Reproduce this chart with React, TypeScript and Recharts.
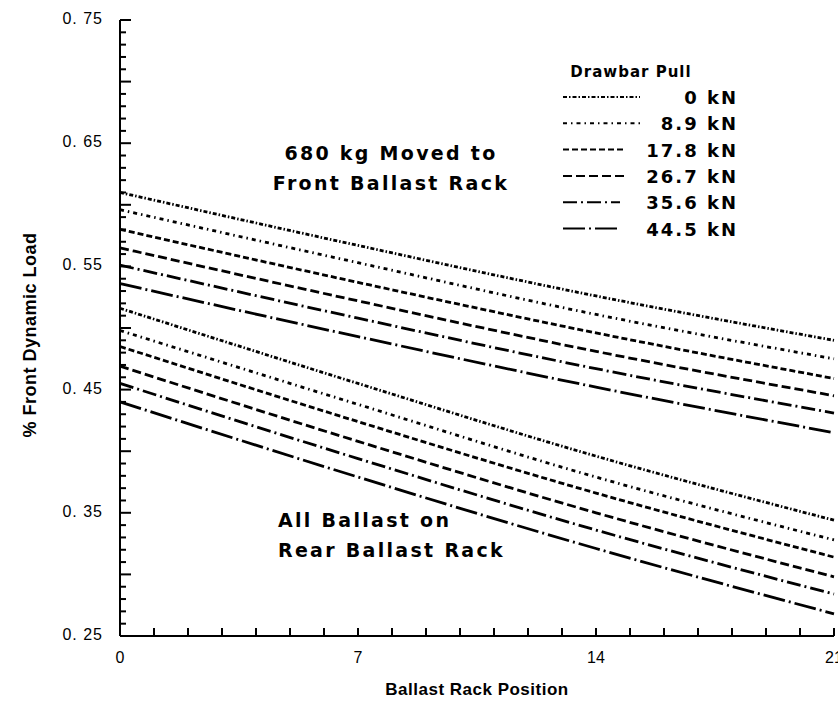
import React from 'react';
import { LineChart, Line, XAxis, YAxis } from 'recharts';

// ballast rack positions where the curves were read
const positions = [0, 7, 14, 21];

// 680 kg moved to front ballast rack
const front0 = [0.610, 0.567, 0.526, 0.490];
const front89 = [0.596, 0.553, 0.511, 0.475];
const front178 = [0.580, 0.537, 0.496, 0.459];
const front267 = [0.565, 0.522, 0.481, 0.445];
const front356 = [0.551, 0.508, 0.467, 0.431];
const front445 = [0.536, 0.493, 0.452, 0.415];

// all ballast on rear ballast rack
const rear0 = [0.516, 0.455, 0.396, 0.344];
const rear89 = [0.498, 0.438, 0.379, 0.328];
const rear178 = [0.485, 0.424, 0.366, 0.314];
const rear267 = [0.469, 0.408, 0.350, 0.298];
const rear356 = [0.455, 0.394, 0.336, 0.284];
const rear445 = [0.440, 0.379, 0.321, 0.268];

const pullLabels = ['0 kN', '8.9 kN', '17.8 kN', '26.7 kN', '35.6 kN', '44.5 kN'];
const dashes = ['4 2 1.5 2', '4 4 1.5 4', '6 3', '9 4', '14 4 2 4', '22 4 2 4'];
// where each legend sample line ends (label is right aligned)
const legendLineEnd = [640, 640, 625, 625, 620, 620];

const xLabelTicks = [0, 7, 14, 21];
const yLabelTicks = [0.75, 0.65, 0.55, 0.45, 0.35, 0.25];
const xTicks = Array.from({ length: 22 }, (_, i) => i);
const yTicks = Array.from({ length: 51 }, (_, i) => Math.round((0.25 + i * 0.01) * 100) / 100);

const frontSeries = [front0, front89, front178, front267, front356, front445];
const rearSeries = [rear0, rear89, rear178, rear267, rear356, rear445];

const data = positions.map((x, i) => {
  const row: Record<string, number> = { x };
  frontSeries.forEach((s, k) => (row[`f${k}`] = s[i]));
  rearSeries.forEach((s, k) => (row[`r${k}`] = s[i]));
  return row;
});

const FONT = '"Liberation Sans", Arial, sans-serif';
const WIDE = '"DejaVu Sans", Verdana, sans-serif';

const isMajorY = (v: number) => Math.round(v * 100) % 5 === 0;

const BottomTick = (props: any) => {
  const { x, y, payload } = props;
  const v = payload.value;
  return (
    <g>
      <line x1={x} y1={y} x2={x} y2={y - 8} stroke="#000" strokeWidth={2} />
      {xLabelTicks.includes(v) && (
        <text x={x} y={y + 27} textAnchor="middle" fontFamily={FONT} fontSize={16} fill="#000">
          {v}
        </text>
      )}
    </g>
  );
};

const TopTick = (props: any) => {
  const { x, y } = props;
  return <line x1={x} y1={y} x2={x} y2={y + 8} stroke="#000" strokeWidth={2} />;
};

const LeftTick = (props: any) => {
  const { x, y, payload } = props;
  const v = payload.value;
  const len = isMajorY(v) ? 11 : 6;
  return (
    <g>
      <line x1={x} y1={y} x2={x + len} y2={y} stroke="#000" strokeWidth={2} />
      {yLabelTicks.includes(v) && (
        <text x={x - 17} y={y + 4} textAnchor="end" fontFamily={FONT} fontSize={16} letterSpacing={1} fill="#000">
          {v.toFixed(2).replace('.', '. ')}
        </text>
      )}
    </g>
  );
};

const RightTick = (props: any) => {
  const { x, y, payload } = props;
  const len = isMajorY(payload.value) ? 11 : 6;
  return <line x1={x} y1={y} x2={x - len} y2={y} stroke="#000" strokeWidth={2} />;
};

export default function App() {
  return (
    <div style={{ position: 'absolute', left: 0, top: 0, background: '#fff' }}>
      <LineChart width={838} height={705} data={data} margin={{ top: 20, right: 4, bottom: 39, left: 40 }}>
        <XAxis
          xAxisId="b"
          dataKey="x"
          type="number"
          domain={[0, 21]}
          ticks={xTicks}
          interval={0}
          tickSize={0}
          tickMargin={0}
          height={30}
          tick={<BottomTick />}
          axisLine={{ stroke: '#000', strokeWidth: 2 }}
          tickLine={false}
        />
        <XAxis
          xAxisId="t"
          orientation="top"
          dataKey="x"
          type="number"
          domain={[0, 21]}
          ticks={xTicks}
          interval={0}
          tickSize={0}
          tickMargin={0}
          height={0}
          tick={<TopTick />}
          axisLine={{ stroke: '#000', strokeWidth: 2 }}
          tickLine={false}
        />
        <YAxis
          yAxisId="l"
          type="number"
          domain={[0.25, 0.75]}
          ticks={yTicks}
          interval={0}
          tickSize={0}
          tickMargin={0}
          width={80}
          tick={<LeftTick />}
          axisLine={{ stroke: '#000', strokeWidth: 2 }}
          tickLine={false}
        />
        <YAxis
          yAxisId="r"
          orientation="right"
          type="number"
          domain={[0.25, 0.75]}
          ticks={yTicks}
          interval={0}
          tickSize={0}
          tickMargin={0}
          width={0}
          tick={<RightTick />}
          axisLine={{ stroke: '#000', strokeWidth: 2 }}
          tickLine={false}
        />
        {frontSeries.map((_, k) => (
          <Line
            key={`f${k}`}
            xAxisId="b"
            yAxisId="l"
            type="monotone"
            dataKey={`f${k}`}
            stroke="#000"
            strokeWidth={2.8}
            strokeDasharray={dashes[k]}
            dot={false}
            isAnimationActive={false}
          />
        ))}
        {rearSeries.map((_, k) => (
          <Line
            key={`r${k}`}
            xAxisId="b"
            yAxisId="l"
            type="monotone"
            dataKey={`r${k}`}
            stroke="#000"
            strokeWidth={2.8}
            strokeDasharray={dashes[k]}
            dot={false}
            isAnimationActive={false}
          />
        ))}

        {/* legend */}
        <text x={631} y={77} textAnchor="middle" fontFamily={WIDE} fontWeight="bold" fontSize={15} letterSpacing={1} fill="#000">
          Drawbar Pull
        </text>
        {pullLabels.map((lab, k) => (
          <g key={lab}>
            <line
              x1={563}
              y1={97 + k * 26.3}
              x2={legendLineEnd[k]}
              y2={97 + k * 26.3}
              stroke="#000"
              strokeWidth={2}
              strokeDasharray={dashes[k]}
            />
            <text x={738} y={104 + k * 26.3} textAnchor="end" fontFamily={WIDE} fontWeight="bold" fontSize={18} letterSpacing={2} fill="#000">
              {lab}
            </text>
          </g>
        ))}

        {/* annotations */}
        <g fontFamily={WIDE} fontWeight="bold" fontSize={19} letterSpacing={2.3} fill="#000">
          <text x={391} y={160} textAnchor="middle">680 kg Moved to</text>
          <text x={391} y={190} textAnchor="middle">Front Ballast Rack</text>
          <text x={278} y={527}>All Ballast on</text>
          <text x={278} y={557}>Rear Ballast Rack</text>
        </g>
        <text x={477} y={695} textAnchor="middle" fontFamily={FONT} fontWeight="bold" fontSize={17} letterSpacing={0.5} fill="#000">
          Ballast Rack Position
        </text>
        <text
          x={36}
          y={335}
          transform="rotate(-90 36 335)"
          textAnchor="middle"
          fontFamily={FONT}
          fontWeight="bold"
          fontSize={18}
          letterSpacing={0.5}
          fill="#000"
        >
          % Front Dynamic Load
        </text>
      </LineChart>
    </div>
  );
}
